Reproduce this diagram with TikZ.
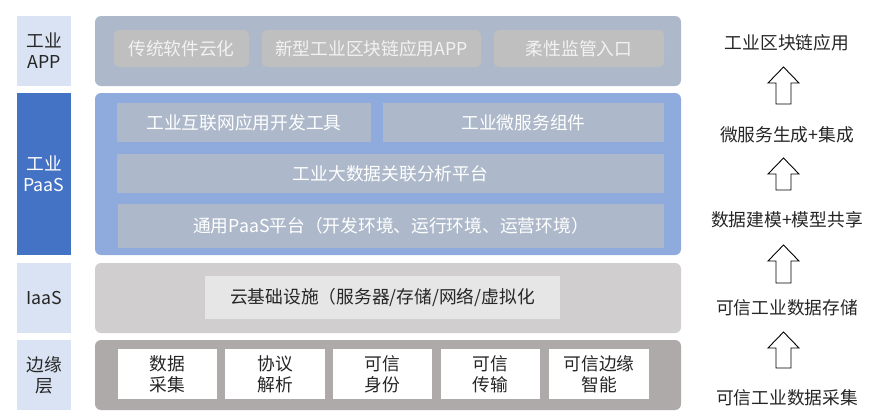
\documentclass[tikz,border=0pt]{standalone}
\usepackage{fontspec}
\setmainfont{Noto Sans CJK SC}
\definecolor{lblLight}{HTML}{DAE3F3}
\definecolor{lblDark}{HTML}{4472C4}
\definecolor{appPanel}{HTML}{ADB9CA}
\definecolor{appBox}{HTML}{BFBFBF}
\definecolor{paasPanel}{HTML}{8FAADC}
\definecolor{paasBox}{HTML}{ADB9CA}
\definecolor{iaasPanel}{HTML}{D0CECE}
\definecolor{iaasBox}{HTML}{E7E6E6}
\definecolor{edgePanel}{HTML}{AEAAAA}
\definecolor{txtDark}{HTML}{262626}
\definecolor{txtLight}{HTML}{F2F2F2}
\tikzset{
  blk/.style={anchor=north west, inner sep=0pt, outer sep=0pt, align=center},
  lbl/.style={blk, text=txtDark},
  panel/.style={blk, rounded corners=6bp},
  appbox/.style={blk, fill=appBox, rounded corners=5bp, text=txtLight},
  paasbox/.style={blk, fill=paasBox, text=white},
  edgebox/.style={blk, fill=white, text=txtDark},
  sidetxt/.style={inner sep=0pt, text=txtDark},
  uparrowshape/.style={draw=black, fill=white, line width=0.9bp, line join=miter}
}
\newcommand{\upblock}[3]{% x-center, top, bottom
  \draw[uparrowshape] (#1,#2) -- (#1+15.5,#2+16) -- (#1+7.5,#2+16) -- (#1+7.5,#3)
    -- (#1-7.5,#3) -- (#1-7.5,#2+16) -- (#1-15.5,#2+16) -- cycle;}
\begin{document}
\begin{tikzpicture}[x=1bp,y=-1bp,font=\fontsize{17.8}{21}\selectfont]
\useasboundingbox (0,0) rectangle (871,419);
% left labels
\node[lbl, fill=lblLight, minimum width=54bp, minimum height=70bp] (lapp) at (17,16) {工业\\APP};
\node[lbl, fill=lblDark, text=white, minimum width=54bp, minimum height=162bp] (lpaas) at (17,93) {工业\\PaaS};
\node[lbl, fill=lblLight, minimum width=54bp, minimum height=70bp] (liaas) at (17,263) {IaaS};
\node[lbl, fill=lblLight, minimum width=54bp, minimum height=70bp] (ledge) at (17,340) {边缘\\层};
% panels
\node[panel, fill=appPanel, minimum width=586bp, minimum height=70bp] (papp) at (95,16) {};
\node[panel, fill=paasPanel, minimum width=586bp, minimum height=162bp] (ppaas) at (95,93) {};
\node[panel, fill=iaasPanel, minimum width=586bp, minimum height=70bp] (piaas) at (95,263) {};
\node[panel, fill=edgePanel, minimum width=586bp, minimum height=70bp] (pedge) at (95,340) {};
% APP boxes
\node[appbox, minimum width=135bp, minimum height=37bp] (a1) at (114,30) {传统软件云化};
\node[appbox, minimum width=219bp, minimum height=37bp] (a2) at (262,30) {新型工业区块链应用APP};
\node[appbox, minimum width=170bp, minimum height=37bp] (a3) at (494,30) {柔性监管入口};
% PaaS boxes
\node[paasbox, minimum width=254bp, minimum height=39bp] (b1) at (117,103) {工业互联网应用开发工具};
\node[paasbox, minimum width=281bp, minimum height=39bp] (b2) at (383,103) {工业微服务组件};
\node[paasbox, minimum width=547bp, minimum height=39bp] (b3) at (117,154) {工业大数据关联分析平台};
\node[paasbox, minimum width=546bp, minimum height=44bp] (b4) at (118,204) {通用PaaS平台（开发环境、运行环境、运营环境）};
% IaaS box
\node[blk, fill=iaasBox, text=txtDark, minimum width=355bp, minimum height=43bp] (c1) at (205,276) {云基础设施（服务器/存储/网络/虚拟化};
% Edge boxes
\node[edgebox, minimum width=99bp, minimum height=50bp] (e1) at (118,349) {数据\\采集};
\node[edgebox, minimum width=100bp, minimum height=50bp] (e2) at (225,349) {协议\\解析};
\node[edgebox, minimum width=99bp, minimum height=50bp] (e3) at (333,349) {可信\\身份};
\node[edgebox, minimum width=99bp, minimum height=50bp] (e4) at (441,349) {可信\\传输};
\node[edgebox, minimum width=100bp, minimum height=50bp] (e5) at (549,349) {可信边缘\\智能};
% right column
\node[sidetxt] (r1) at (787,43) {工业区块链应用};
\node[sidetxt] (r2) at (787,135) {微服务生成+集成};
\node[sidetxt] (r3) at (787,220) {数据建模+模型共享};
\node[sidetxt] (r4) at (787,308) {可信工业数据存储};
\node[sidetxt] (r5) at (787,398) {可信工业数据采集};
\upblock{783.5}{67}{104}
\upblock{783.5}{158}{190}
\upblock{783.5}{245}{283}
\upblock{783.5}{332}{368}
\end{tikzpicture}
\end{document}
